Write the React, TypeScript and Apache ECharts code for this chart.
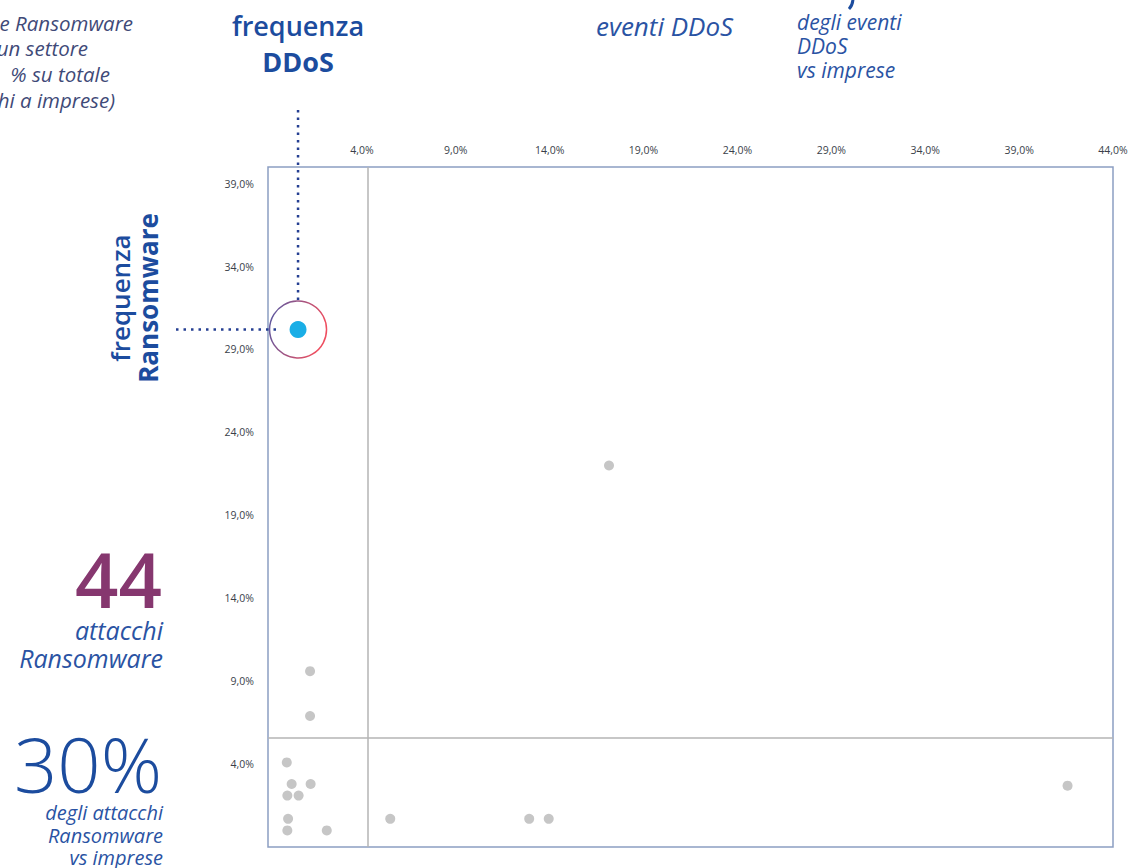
import { useEffect, useRef } from "react";
import * as echarts from "echarts";

// Sector points: share of DDoS events (x, %) vs share of Ransomware attacks (y, %)
const ddosShare = [0.0, 0.26, 1.27, 0.03, 0.63, 0.07, 0.03, 2.13, 5.51, 12.91, 13.95, 41.58, 17.16, 1.24, 1.24];
const ransomShare = [4.1, 2.8, 2.8, 2.1, 2.1, 0.7, 0.0, 0.0, 0.7, 0.7, 0.7, 2.7, 22.0, 9.6, 6.9];
// Highlighted sector
const highlightDdos = [0.6];
const highlightRansom = [30.2];
// Reference lines
const refDdos = 4.3;
const refRansom = 5.6;
// Axis settings
const xMin = -1, xMax = 44, yMin = -1, yMax = 40, step = 5;

const BLUE = "#1c4c9e";
const TXT = "#2a53a3";
const GREYTXT = "#3f4a78";
const PURPLE = "#86376f";
const FONT = "'Open Sans', 'Noto Sans', sans-serif";

const fmt = (v: number) => {
  const r = Math.round(v * 10) / 10;
  return r.toFixed(1).replace(".", ",") + "%";
};

function buildOption(extra: any[]) {
  const t = (text: string, x: number, y: number, o: any = {}) => ({
    type: "text",
    silent: true,
    style: {
      text, x, y,
      fill: o.fill || TXT,
      fontFamily: FONT,
      fontSize: o.size || 20,
      fontStyle: o.italic ? "italic" : "normal",
      fontWeight: o.weight || "normal",
      textAlign: o.align || "left",
      textVerticalAlign: "middle",
    },
  });
  const rot = (text: string, x: number, y: number, weight: any) => ({
    type: "text",
    silent: true,
    x, y,
    rotation: Math.PI / 2,
    style: {
      text, x: 0, y: 0,
      fill: BLUE,
      fontFamily: FONT,
      fontSize: 26,
      fontWeight: weight,
      textAlign: "center",
      textVerticalAlign: "middle",
    },
  });
  const graphic: any[] = [
    t("e Ransomware", 133, 23, { italic: true, fill: GREYTXT, align: "right", size: 20.5 }),
    t("un settore", 88, 48, { italic: true, fill: GREYTXT, align: "right", size: 20.5 }),
    t("% su totale", 110, 74, { italic: true, fill: GREYTXT, align: "right", size: 20.5 }),
    t("hi a imprese)", 115, 100, { italic: true, fill: GREYTXT, align: "right", size: 20.5 }),
    t("frequenza", 298, 25, { size: 27, weight: 600, fill: BLUE, align: "center" }),
    t("DDoS", 298, 61, { size: 27, weight: "bold", fill: BLUE, align: "center" }),
    t("eventi DDoS", 596, 26, { italic: true, size: 26 }),
    t("degli eventi", 797, 22, { italic: true, size: 21 }),
    t("DDoS", 797, 46, { italic: true, size: 21 }),
    t("vs imprese", 797, 70, { italic: true, size: 21 }),
    rot("frequenza", 120, 298, 600),
    rot("Ransomware", 148, 298, "bold"),
    {
      type: "text", silent: true,
      style: { text: "44", x: 162, y: 578, fill: PURPLE, fontFamily: FONT, fontSize: 76, fontWeight: 600, textAlign: "right", textVerticalAlign: "middle" },
    },
    t("attacchi", 163, 630, { italic: true, size: 25, align: "right" }),
    t("Ransomware", 163, 658, { italic: true, size: 25, align: "right" }),
    {
      type: "text", silent: true,
      style: { text: "30%", x: 162, y: 763, fill: BLUE, fontFamily: FONT, fontSize: 76, fontWeight: 300, textAlign: "right", textVerticalAlign: "middle" },
    },
    t("degli attacchi", 163, 812, { italic: true, size: 20, align: "right" }),
    t("Ransomware", 163, 835, { italic: true, size: 20, align: "right" }),
    t("vs imprese", 163, 857, { italic: true, size: 20, align: "right" }),
    {
      type: "bezierCurve", silent: true,
      shape: { x1: 853, y1: -2, x2: 849, y2: 9, cpx1: 853, cpy1: 5 },
      style: { stroke: BLUE, lineWidth: 3, fill: "none" },
    },
    ...extra,
  ];

  return {
    animation: false,
    backgroundColor: "#ffffff",
    textStyle: { fontFamily: FONT },
    grid: {
      left: 268, top: 167, right: 21, bottom: 21,
      show: true, borderColor: "#8c9ec2", borderWidth: 1.5, backgroundColor: "transparent",
    },
    xAxis: {
      type: "value", position: "top", min: xMin, max: xMax, interval: step,
      axisLine: { show: false }, axisTick: { show: false }, splitLine: { show: false },
      axisLabel: {
        margin: 12, fontSize: 10.5, color: "#3a3f4a", fontFamily: FONT,
        showMinLabel: true, showMaxLabel: true,
        formatter: (v: number) => (v < 0 ? "" : fmt(v)),
      },
    },
    yAxis: {
      type: "value", min: yMin, max: yMax, interval: step,
      axisLine: { show: false }, axisTick: { show: false }, splitLine: { show: false },
      axisLabel: {
        margin: 14, fontSize: 10.5, color: "#3a3f4a", fontFamily: FONT,
        formatter: (v: number) => (v < 0 || v > 39.5 ? "" : fmt(v)),
      },
    },
    series: [
      {
        type: "scatter", name: "settori", symbolSize: 10,
        itemStyle: { color: "#c6c6c6", opacity: 1 },
        data: ddosShare.map((x, i) => [x, ransomShare[i]]),
        markLine: {
          silent: true, symbol: "none", label: { show: false },
          lineStyle: { color: "#b4b4b4", width: 1.5, type: "solid" },
          data: [{ xAxis: refDdos }, { yAxis: refRansom }],
        },
        z: 2,
      },
      {
        type: "scatter", name: "anello", symbolSize: 57, silent: true,
        itemStyle: {
          color: "rgba(255,255,255,0)", borderWidth: 1.5,
          borderColor: new echarts.graphic.LinearGradient(0, 0, 1, 0.3, [
            { offset: 0, color: "#26318f" },
            { offset: 1, color: "#ea2238" },
          ]),
        },
        data: highlightDdos.map((x, i) => [x, highlightRansom[i]]),
        z: 3,
      },
      {
        type: "scatter", name: "settore evidenziato", symbolSize: 17,
        itemStyle: { color: "#1aaee6", opacity: 1 },
        data: highlightDdos.map((x, i) => [x, highlightRansom[i]]),
        z: 4,
      },
    ],
    graphic: { elements: graphic },
  };
}

export default function App() {
  const ref = useRef<HTMLDivElement>(null);
  useEffect(() => {
    document.body.style.margin = "0";
    if (!ref.current) return;
    const chart = echarts.init(ref.current, undefined, { renderer: "svg" });
    chart.setOption(buildOption([]));
    const p = chart.convertToPixel({ gridIndex: 0 }, [highlightDdos[0], highlightRansom[0]]) as number[];
    const dots = { stroke: "#253f92", lineWidth: 2.5, lineDash: [2.5, 5], lineCap: "butt" };
    const lines = [
      { type: "line", silent: true, shape: { x1: p[0], y1: 110, x2: p[0], y2: p[1] - 28 }, style: dots, z: 10 },
      { type: "line", silent: true, shape: { x1: 176, y1: p[1], x2: p[0] - 21, y2: p[1] }, style: dots, z: 10 },
    ];
    chart.setOption(buildOption(lines), { notMerge: true });
    return () => chart.dispose();
  }, []);
  return <div ref={ref} style={{ position: "fixed", left: 0, top: 0, width: 1134, height: 868 }} />;
}
